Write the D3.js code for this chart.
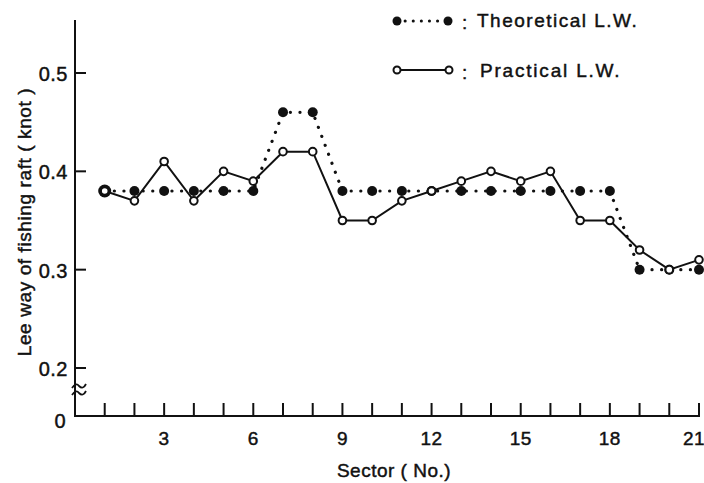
<!DOCTYPE html>
<html>
<head>
<meta charset="utf-8">
<script src="https://cdn.jsdelivr.net/npm/d3@7"></script>
<style>
  body { margin: 0; background: #fff; }
  text { font-family: "Liberation Sans", "DejaVu Sans", sans-serif; fill: #111; stroke: #111; stroke-width: 0.45; }
</style>
</head>
<body>
<svg width="704" height="483"></svg>
<script>
/* data */
const sectors = d3.range(1, 22)
const theoretical = [0.38, 0.38, 0.38, 0.38, 0.38, 0.38, 0.46, 0.46, 0.38, 0.38, 0.38,
                     0.38, 0.38, 0.38, 0.38, 0.38, 0.38, 0.38, 0.30, 0.30, 0.30]
const practical = [0.38, 0.37, 0.41, 0.37, 0.40, 0.39, 0.42, 0.42, 0.35, 0.35, 0.37,
                   0.38, 0.39, 0.40, 0.39, 0.40, 0.35, 0.35, 0.32, 0.30, 0.31]
const xTicks = [3, 6, 9, 12, 15, 18, 21]
const yTicks = [0.2, 0.3, 0.4, 0.5]

const svg = d3.select("svg")
const x0 = 75, yBase = 416, yTop = 20

const x = d3.scaleLinear().domain([0, 21]).range([x0, 699])
const y = d3.scaleLinear().domain([0.2, 0.5]).range([368, 73])

const ink = "#111"

// axes
svg.append("line").attr("x1", x0).attr("x2", x0).attr("y1", yTop).attr("y2", yBase)
  .attr("stroke", ink).attr("stroke-width", 2)
svg.append("line").attr("x1", x0 - 1).attr("x2", x(21) + 1).attr("y1", yBase).attr("y2", yBase)
  .attr("stroke", ink).attr("stroke-width", 2)

// x ticks (inward)
svg.selectAll(".xt").data(sectors).enter().append("line")
  .attr("x1", d => x(d)).attr("x2", d => x(d))
  .attr("y1", yBase).attr("y2", yBase - 13)
  .attr("stroke", ink).attr("stroke-width", 2)

svg.selectAll(".xl").data(xTicks).enter().append("text")
  .attr("x", d => Math.min(x(d), 694)).attr("y", yBase + 29)
  .attr("text-anchor", "middle").attr("font-size", 19).attr("letter-spacing", 0.5)
  .text(d => d)

// y ticks
svg.selectAll(".yt").data(yTicks).enter().append("line")
  .attr("x1", x0).attr("x2", x0 + 11)
  .attr("y1", d => y(d)).attr("y2", d => y(d))
  .attr("stroke", ink).attr("stroke-width", 2)

svg.selectAll(".yl").data(yTicks).enter().append("text")
  .attr("x", x0 - 7).attr("y", d => y(d) + 8)
  .attr("text-anchor", "end").attr("font-size", 20).attr("letter-spacing", 0.5)
  .text(d => d.toFixed(1))

svg.append("text").attr("x", 60).attr("y", 428)
  .attr("text-anchor", "middle").attr("font-size", 20).text("0")

// axis break
const brk = svg.append("g").attr("fill", "none").attr("stroke", ink).attr("stroke-width", 1.8)
;[386, 393].forEach(yy => {
  brk.append("path").attr("d", `M${x0 - 3},${yy + 2} q4,-6 7,-2 q4,4 7,-2`)
})

// titles
svg.append("text").attr("x", 394).attr("y", 477)
  .attr("text-anchor", "middle").attr("font-size", 19).attr("letter-spacing", 0.5)
  .text("Sector ( No.)")
svg.append("text").attr("transform", "translate(31,222) rotate(-90)")
  .attr("text-anchor", "middle").attr("font-size", 19).attr("letter-spacing", 0.6)
  .text("Lee way of fishing raft ( knot )")

// series
const line = d3.line().x((d, i) => x(sectors[i])).y(d => y(d))

svg.append("path").datum(theoretical).attr("d", line)
  .attr("fill", "none").attr("stroke", ink).attr("stroke-width", 3.2)
  .attr("stroke-linecap", "round").attr("stroke-dasharray", "0.1 9.5")

svg.append("path").datum(practical).attr("d", line)
  .attr("fill", "none").attr("stroke", ink).attr("stroke-width", 2)

svg.selectAll(".td").data(theoretical).enter().append("circle")
  .attr("cx", (d, i) => x(sectors[i])).attr("cy", d => y(d))
  .attr("r", (d, i) => i === 0 ? 6.5 : 5).attr("fill", ink)

svg.selectAll(".pd").data(practical).enter().append("circle")
  .attr("cx", (d, i) => x(sectors[i])).attr("cy", d => y(d))
  .attr("r", 3.8).attr("fill", "#fff").attr("stroke", ink).attr("stroke-width", 2)

// legend
const lg = svg.append("g")
lg.append("line").attr("x1", 397).attr("x2", 448).attr("y1", 21).attr("y2", 21)
  .attr("stroke", ink).attr("stroke-width", 3).attr("stroke-linecap", "round")
  .attr("stroke-dasharray", "0.1 8")
lg.append("circle").attr("cx", 397).attr("cy", 21).attr("r", 4.5).attr("fill", ink)
lg.append("circle").attr("cx", 448).attr("cy", 21).attr("r", 4.5).attr("fill", ink)
lg.append("text").attr("x", 462).attr("y", 29).attr("font-size", 19).text(":")
lg.append("text").attr("x", 477).attr("y", 27).attr("font-size", 19).attr("letter-spacing", 1.5)
  .text("Theoretical L.W.")

lg.append("line").attr("x1", 397).attr("x2", 449).attr("y1", 70).attr("y2", 70)
  .attr("stroke", ink).attr("stroke-width", 2)
lg.append("circle").attr("cx", 397).attr("cy", 70).attr("r", 3.5).attr("fill", "#fff")
  .attr("stroke", ink).attr("stroke-width", 2)
lg.append("circle").attr("cx", 449).attr("cy", 70).attr("r", 3.5).attr("fill", "#fff")
  .attr("stroke", ink).attr("stroke-width", 2)
lg.append("text").attr("x", 462).attr("y", 79).attr("font-size", 19).text(":")
lg.append("text").attr("x", 480).attr("y", 77).attr("font-size", 19).attr("letter-spacing", 1.8)
  .text("Practical L.W.")
</script>
</body>
</html>
